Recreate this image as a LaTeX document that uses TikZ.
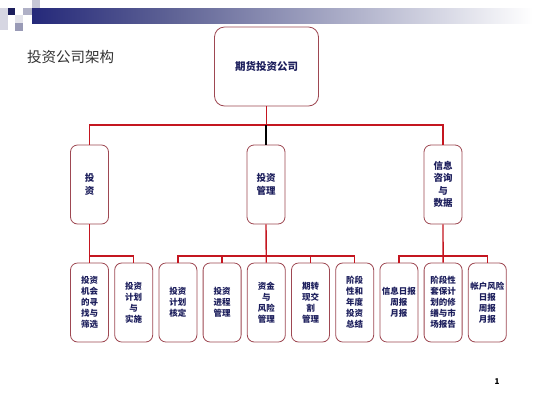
\documentclass[tikz,border=0pt]{standalone}
\usepackage{fontspec}
\setmainfont{Noto Sans CJK SC}
\usepackage{tikz}
\newcommand{\boxwidth}{38pt}
\newcommand{\boxheight}{79pt}
\definecolor{myNavy}{RGB}{28,30,92}
\definecolor{myBar}{RGB}{37,41,122}
\definecolor{myMid}{RGB}{96,100,150}
\definecolor{myRed}{RGB}{196,22,32}
\definecolor{myBorder}{RGB}{158,72,82}
\usetikzlibrary{positioning}
\tikzset{
  x=1pt,y=-1pt,
  node distance=5.4pt,
  font=\bfseries\fontsize{8.5}{11}\selectfont,
  leafbox/.style={draw=myBorder,fill=white,line width=0.8pt,rounded corners=7pt,shape=rectangle,minimum width=\boxwidth,minimum height=\boxheight,inner sep=1pt,align=center,text=myNavy},
  midbox/.style={leafbox,font=\bfseries\fontsize{9.5}{12.5}\selectfont},
  topbox/.style={leafbox,minimum width=104pt,rounded corners=10pt,font=\bfseries\fontsize{10.5}{12}\selectfont},
  line/.style={draw=myRed,line width=1.4pt},
  blackline/.style={draw=black,line width=1.4pt},
}
\begin{document}
\begin{tikzpicture}
  \useasboundingbox[fill=white] (0,0) rectangle (533,400);
  % header bar
  \shade[left color=myBar,right color=myMid] (32,8) rectangle (175,23);
  \shade[left color=myMid,right color=white] (175,8) rectangle (533,23);
  \fill[myNavy] (8,8) rectangle (15,15);
  \fill[myNavy!18] (0,8) rectangle (8,30);
  \fill[myNavy!35] (23,8) rectangle (32,15);
  \fill[myNavy!25] (32,0) rectangle (40,8);
  \fill[myNavy!12] (15,15) rectangle (23,23);
  \fill[myNavy!45] (15,23) rectangle (23,31);
  \node (title) [anchor=west,inner sep=0,text=black!80,font=\fontsize{14.5}{15}\selectfont] at (27,57) {投资公司架构};
  % boxes
  \node (co) [topbox] at (266.5,66.5) {期货投资公司};
  \node (inv) [midbox] at (89.5,184.5) {投\\资};
  \node (mgmt) [midbox] at (266,184.5) {投资\\管理};
  \node (info) [midbox] at (443,184.5) {信息\\咨询\\与\\数据};
  \node (a1) [leafbox] at (89.5,302.5) {投资\\机会\\的寻\\找与\\筛选};
  \node (a2) [leafbox,right=of a1] {投资\\计划\\与\\实施};
  \node (b1) [leafbox,right=of a2] {投资\\计划\\核定};
  \node (b2) [leafbox,right=of b1] {投资\\进程\\管理};
  \node (b3) [leafbox,right=of b2] {资金\\与\\风险\\管理};
  \node (b4) [leafbox,right=of b3] {期转\\现交\\割\\管理};
  \node (b5) [leafbox,right=of b4] {阶段\\性和\\年度\\投资\\总结};
  \node (c1) [leafbox,right=of b5] {信息日报\\周报\\月报};
  \node (c2) [leafbox,right=of c1] {阶段性\\套保计\\划的修\\缮与市\\场报告};
  \node (c3) [leafbox,right=of c2] {帐户风险\\日报\\周报\\月报};
  \coordinate (bus) at (0,125);
  \coordinate (sub) at (0,256);
  % connectors
  \path [line] (co.south) -- (co.south |- bus);
  \path [line] (inv.north) |- (info.north |- bus) -- (info.north);
  \path [blackline] (mgmt.north |- bus) -- (mgmt.north);
  \path [line] (inv.south) -- (a1.north);
  \path [line] (a1.north |- sub) -| (a2.north);
  \path [line] (mgmt.south) -- (b3.north);
  \path [line] (b1.north) |- (b5.north |- sub) -- (b5.north);
  \path [line] (b2.north) -- (b2.north |- sub);
  \path [line] (b4.north) -- (b4.north |- sub);
  \path [line] (info.south) -- (c2.north);
  \path [line] (c1.north) |- (c3.north |- sub) -- (c3.north);
  \node (pg) at (497,382) [font=\bfseries\fontsize{8}{8}\selectfont] {1};
\end{tikzpicture}
\end{document}
